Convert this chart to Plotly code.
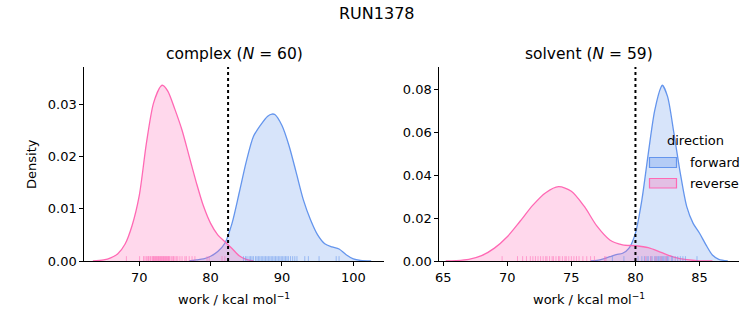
import plotly.graph_objects as go

# ---------------- data ----------------
# complex leg: KDE curves (work in kcal/mol, density)
cx_rev_x = [63.5, 65, 66, 67, 68, 69, 70, 71, 72, 73, 73.3, 74, 75, 76, 77, 78, 79, 80, 81, 82, 83, 84, 85, 86]
cx_rev_y = [0.0, 0.0002, 0.0006, 0.0014, 0.0032, 0.0068, 0.0125, 0.0225, 0.0302, 0.0334, 0.0336, 0.0325, 0.0290, 0.0250, 0.0200, 0.0150, 0.0105, 0.0072, 0.0050, 0.0037, 0.0024, 0.0010, 0.0003, 0.0]
cx_fwd_x = [77, 78, 79, 80, 81, 82, 83, 84, 85, 86, 87, 88, 88.6, 89, 90, 91, 92, 93, 94, 95, 96, 97, 98, 99, 100, 101, 102.5]
cx_fwd_y = [0.0, 0.0002, 0.0004, 0.0009, 0.0018, 0.0034, 0.0072, 0.0130, 0.0190, 0.0238, 0.0260, 0.0277, 0.0281, 0.0280, 0.0259, 0.0220, 0.0169, 0.0117, 0.0079, 0.0050, 0.0033, 0.0027, 0.0023, 0.0012, 0.0004, 0.0001, 0.0]

# solvent leg: KDE curves
sv_rev_x = [65.2, 66, 67, 68, 69, 70, 71, 72, 73, 74, 75, 76, 77, 78, 79, 80, 81, 82, 83, 84, 85, 86]
sv_rev_y = [0.0, 0.0002, 0.0008, 0.0025, 0.0060, 0.0113, 0.0185, 0.0260, 0.0318, 0.0346, 0.0325, 0.0255, 0.0162, 0.0098, 0.0075, 0.0071, 0.0062, 0.0040, 0.0018, 0.0006, 0.0001, 0.0]
sv_fwd_x = [76.5, 77, 77.5, 78, 78.5, 79, 79.5, 80, 80.5, 81, 81.5, 82, 82.1, 82.5, 83, 83.5, 84, 84.5, 85, 85.5, 86, 86.5, 87.2]
sv_fwd_y = [0.0, 0.0003, 0.0010, 0.0020, 0.0030, 0.0036, 0.0060, 0.0130, 0.0284, 0.0500, 0.0700, 0.0810, 0.0818, 0.0766, 0.0595, 0.0408, 0.0253, 0.0175, 0.0129, 0.0075, 0.0028, 0.0008, 0.0]

# individual work samples (rug ticks)
cx_rev_work = [68.2, 70.05, 70.6, 70.8, 71.0, 71.2, 71.3, 71.5, 71.6, 71.8, 71.9, 72.0, 72.1, 72.2, 72.3,
               72.4, 72.5, 72.6, 72.7, 72.8, 72.9, 73.0, 73.1, 73.2, 73.3, 73.4, 73.5, 73.6, 73.7, 73.8,
               73.9, 74.0, 74.1, 74.2, 74.3, 74.5, 74.7, 74.8, 75.0, 75.2, 75.4, 75.7, 76.0, 76.4, 76.6,
               77.0, 77.4, 77.8, 79.5, 79.8, 81.6, 82.0]
cx_fwd_work = [84.6, 84.9, 85.1, 85.4, 85.6, 85.8, 86.0, 86.3, 86.5, 86.7, 86.9, 87.1, 87.3, 87.5, 87.7,
               87.9, 88.1, 88.3, 88.5, 88.7, 88.9, 89.1, 89.3, 89.5, 89.7, 89.9, 90.1, 90.3, 90.5, 90.7,
               90.9, 91.2, 91.5, 91.8, 92.1, 93.2, 93.7, 95.2, 97.6, 98.0]
sv_rev_work = [69.6, 70.8, 71.2, 71.5, 71.8, 72.0, 72.2, 72.4, 72.6, 72.8, 73.0, 73.1, 73.3, 73.5, 73.6,
               73.8, 74.0, 74.1, 74.3, 74.5, 74.6, 74.8, 75.0, 75.2, 75.4, 75.6, 75.9, 76.2, 76.5, 76.8,
               77.6, 77.7, 80.8, 81.2, 81.6, 82.0, 82.4]
sv_fwd_work = [78.2, 79.1, 80.2, 80.5, 80.7, 80.9, 81.0, 81.2, 81.3, 81.5, 81.6, 81.7, 81.8, 81.9, 82.0,
               82.1, 82.2, 82.3, 82.4, 82.5, 82.6, 82.8, 82.9, 83.1, 83.3, 83.5, 83.7, 83.9, 84.8]

# free energy estimates (dotted lines)
dg_values = [82.45, 80.0]

panel_titles = ["complex (<i>N</i> = 60)", "solvent (<i>N</i> = 59)"]
directions = ["forward", "reverse"]
x_ranges = [[62.3, 104.3], [64.7, 88.1]]
y_ranges = [[0, 0.0371], [0, 0.0903]]
x_ticks = [[70, 80, 90, 100], [65, 70, 75, 80, 85]]
y_ticks = [[0.0, 0.01, 0.02, 0.03], [0.0, 0.02, 0.04, 0.06, 0.08]]

# ---------------- styling ----------------
FONT = "DejaVu Sans"
BLUE = "#6495ED"
PINK = "#FF69B4"
BLUE_FILL = "rgba(100,149,237,0.26)"
PINK_FILL = "rgba(255,105,180,0.26)"
W, H = 753, 325

x_domains = [[84.3 / W, 384 / W], [439.3 / W, 739.3 / W]]
y_domain = [1 - 261 / H, 1 - 67 / H]

fig = go.Figure()

panels = [
    (cx_fwd_x, cx_fwd_y, cx_rev_x, cx_rev_y, cx_fwd_work, cx_rev_work),
    (sv_fwd_x, sv_fwd_y, sv_rev_x, sv_rev_y, sv_fwd_work, sv_rev_work),
]

for i, (fx, fy, rx, ry, fw, rw) in enumerate(panels):
    xa = "x" if i == 0 else "x2"
    ya = "y" if i == 0 else "y2"
    fig.add_trace(go.Scatter(x=fx, y=fy, mode="lines", line=dict(color=BLUE, width=1.3, shape="spline", smoothing=0.8),
                             fill="tozeroy", fillcolor=BLUE_FILL, name=directions[0],
                             showlegend=False, xaxis=xa, yaxis=ya))
    fig.add_trace(go.Scatter(x=rx, y=ry, mode="lines", line=dict(color=PINK, width=1.3, shape="spline", smoothing=0.8),
                             fill="tozeroy", fillcolor=PINK_FILL, name=directions[1],
                             showlegend=False, xaxis=xa, yaxis=ya))
    # rug ticks
    rug_h = 0.025 * y_ranges[i][1]
    for works, col in ((fw, "rgba(100,149,237,0.55)"), (rw, "rgba(255,105,180,0.55)")):
        xs, ys = [], []
        for w in works:
            xs += [w, w, None]
            ys += [0, rug_h, None]
        fig.add_trace(go.Scatter(x=xs, y=ys, mode="lines", line=dict(color=col, width=1),
                                 showlegend=False, hoverinfo="skip", xaxis=xa, yaxis=ya))
    # dotted free-energy line
    fig.add_shape(type="line", xref=xa, yref=ya + " domain", x0=dg_values[i], x1=dg_values[i], y0=0, y1=1,
                  line=dict(color="black", width=2, dash="dot"))

# legend (seaborn style patches) drawn inside the solvent panel
legend_rows = [(directions[0], BLUE, "rgba(100,149,237,0.30)", 157.5, 167.5),
               (directions[1], PINK, "rgba(255,105,180,0.30)", 178.5, 188)]
for name, edge, face, top, bot in legend_rows:
    fig.add_shape(type="rect", xref="paper", yref="paper", x0=649.5 / W, x1=676.5 / W,
                  y0=1 - bot / H, y1=1 - top / H, line=dict(color=edge, width=1.2), fillcolor=face, layer="above")
    fig.add_annotation(xref="paper", yref="paper", x=688 / W, y=1 - (top + bot) / 2 / H, text=name,
                       showarrow=False, xanchor="left", yanchor="middle",
                       font=dict(family=FONT, size=13, color="black"))

axis_common = dict(showgrid=False, zeroline=False, showline=True, linecolor="black", linewidth=1,
                   ticks="outside", ticklen=4, tickwidth=1, tickcolor="black", automargin=False,
                   tickfont=dict(family=FONT, size=13, color="black"))

fig.update_layout(
    width=W, height=H,
    autosize=False,
    margin=dict(l=0, r=0, t=0, b=0, pad=0, autoexpand=False),
    paper_bgcolor="white", plot_bgcolor="white",
    font=dict(family=FONT, size=13, color="black"),
    xaxis=dict(domain=x_domains[0], range=x_ranges[0], tickvals=x_ticks[0], anchor="y", **axis_common),
    yaxis=dict(domain=y_domain, range=y_ranges[0], tickvals=y_ticks[0], tickformat=".2f", anchor="x", **axis_common),
    xaxis2=dict(domain=x_domains[1], range=x_ranges[1], tickvals=x_ticks[1], anchor="y2", **axis_common),
    yaxis2=dict(domain=y_domain, range=y_ranges[1], tickvals=y_ticks[1], tickformat=".2f", anchor="x2", **axis_common),
    showlegend=False,
)

annotations = [
    dict(text="RUN1378", x=376.5 / W, y=1 - 13 / H, font=dict(size=16)),
    dict(text=panel_titles[0], x=234 / W, y=1 - 54 / H, font=dict(size=15.5)),
    dict(text=panel_titles[1], x=589 / W, y=1 - 54 / H, font=dict(size=15.5)),
    dict(text="work / kcal mol<sup>−1</sup>", x=234 / W, y=1 - 299 / H, font=dict(size=13)),
    dict(text="work / kcal mol<sup>−1</sup>", x=589 / W, y=1 - 299 / H, font=dict(size=13)),
    dict(text="Density", x=31 / W, y=1 - 164 / H, textangle=-90, font=dict(size=13)),
    dict(text="direction", x=695 / W, y=1 - 141 / H, font=dict(size=13)),
]
for a in annotations:
    fig.add_annotation(xref="paper", yref="paper", showarrow=False, xanchor="center", yanchor="middle",
                       **{k: v for k, v in a.items() if k != "font"},
                       font=dict(family=FONT, color="black", **a["font"]))

fig.write_html("out.html")
